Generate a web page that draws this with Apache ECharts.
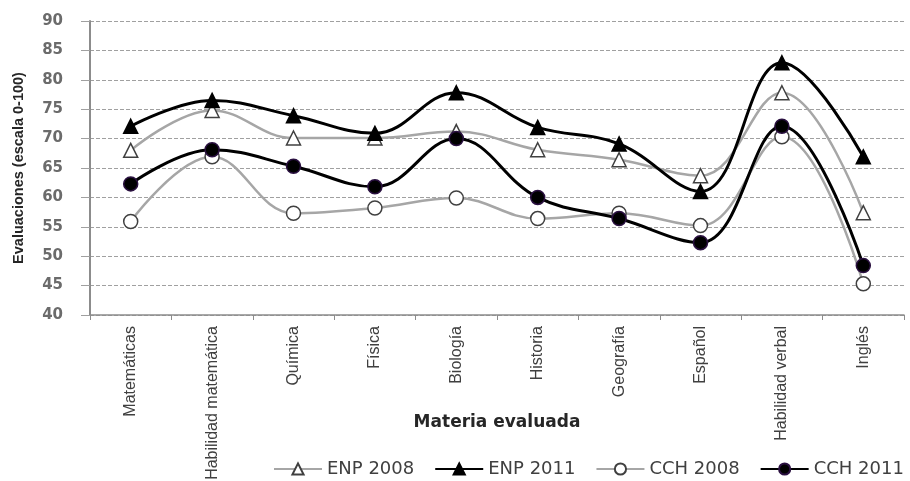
<!DOCTYPE html>
<html><head><meta charset="utf-8">
<script src="https://cdn.jsdelivr.net/npm/echarts@6/dist/echarts.min.js"></script>
<style>html,body{margin:0;padding:0;background:#fff}#c{width:910px;height:481px}</style>
</head><body><div id="c"></div>
<script>
const categories = ['Matemáticas','Habilidad matemática','Química','Física','Biología','Historia','Geografía','Español','Habilidad verbal','Inglés'];
const seriesNames = ['ENP 2008','ENP 2011','CCH 2008','CCH 2011'];
const enp2008 = [68.0, 74.8, 70.1, 70.1, 71.2, 68.1, 66.4, 63.7, 77.8, 57.4];
const enp2011 = [72.1, 76.5, 73.9, 70.9, 77.8, 71.9, 69.1, 61.0, 82.9, 66.9];
const cch2008 = [55.9, 66.9, 57.3, 58.2, 59.9, 56.4, 57.3, 55.2, 70.3, 45.3];
const cch2011 = [62.3, 68.1, 65.3, 61.8, 70.0, 60.0, 56.4, 52.3, 72.1, 48.4];
const yMin = 40, yMax = 90, yStep = 5;
const yTitle = 'Evaluaciones (escala 0-100)';
const xTitle = 'Materia evaluada';

const gray = '#a6a6a6';
function mk(name, data, lineColor, symbol, fill, border, lw, z) {
  return {
    name, type: 'line', data, smooth: 0.4, z,
    symbol, symbolSize: 14,
    lineStyle: { color: lineColor, width: lw },
    itemStyle: { color: fill, borderColor: border, borderWidth: 1.5 },
    emphasis: { disabled: true }
  };
}
const chart = echarts.init(document.getElementById('c'), null, { renderer: 'canvas' });
chart.setOption({
  animation: false,
  backgroundColor: '#fff',
  grid: { left: 90, right: 6, top: 21, bottom: 166, containLabel: false, outerBoundsMode: 'none' },
  legend: {
    data: seriesNames, left: 268, top: 455, itemWidth: 48, itemHeight: 14, itemGap: 20,
    textStyle: { fontFamily: 'DejaVu Sans', fontSize: 18, color: '#404040' }
  },
  xAxis: {
    type: 'category', data: categories, boundaryGap: true,
    name: xTitle, nameLocation: 'middle', nameGap: 99, nameMoveOverlap: false,
    nameTextStyle: { fontFamily: 'DejaVu Sans', fontWeight: 'bold', fontSize: 17, color: '#262626' },
    axisLine: { lineStyle: { color: '#8c8c8c', width: 1.5 } },
    axisTick: { show: true, length: 5, lineStyle: { color: '#8c8c8c' } },
    axisLabel: { rotate: 90, margin: 11, interval: 0, fontFamily: 'Liberation Sans', fontSize: 16, color: '#404040' },
    splitLine: { show: false }
  },
  yAxis: {
    type: 'value', min: yMin, max: yMax, interval: yStep,
    name: yTitle, nameLocation: 'middle', nameGap: 64, nameRotate: 90, nameMoveOverlap: false,
    nameTextStyle: { fontFamily: 'Liberation Sans', fontWeight: 'bold', fontSize: 14.5, color: '#262626' },
    axisLine: { show: true, lineStyle: { color: '#8c8c8c', width: 2 } },
    axisTick: { show: true, length: 9, lineStyle: { color: '#a0a0a0' } },
    axisLabel: { margin: 27, fontFamily: 'DejaVu Sans', fontWeight: 'bold', fontSize: 15, color: '#6b6b6b' },
    splitLine: { show: true, lineStyle: { color: '#a0a0a0', type: [4, 2], width: 1 } }
  },
  series: [
    mk(seriesNames[0], enp2008, gray, 'triangle', '#fff', '#404040', 2.5, 2),
    mk(seriesNames[1], enp2011, '#000', 'triangle', '#000', '#000', 3, 3),
    mk(seriesNames[2], cch2008, gray, 'circle', '#fff', '#404040', 2.5, 4),
    mk(seriesNames[3], cch2011, '#000', 'circle', '#000', '#2a1040', 3, 5)
  ]
});
</script></body></html>
